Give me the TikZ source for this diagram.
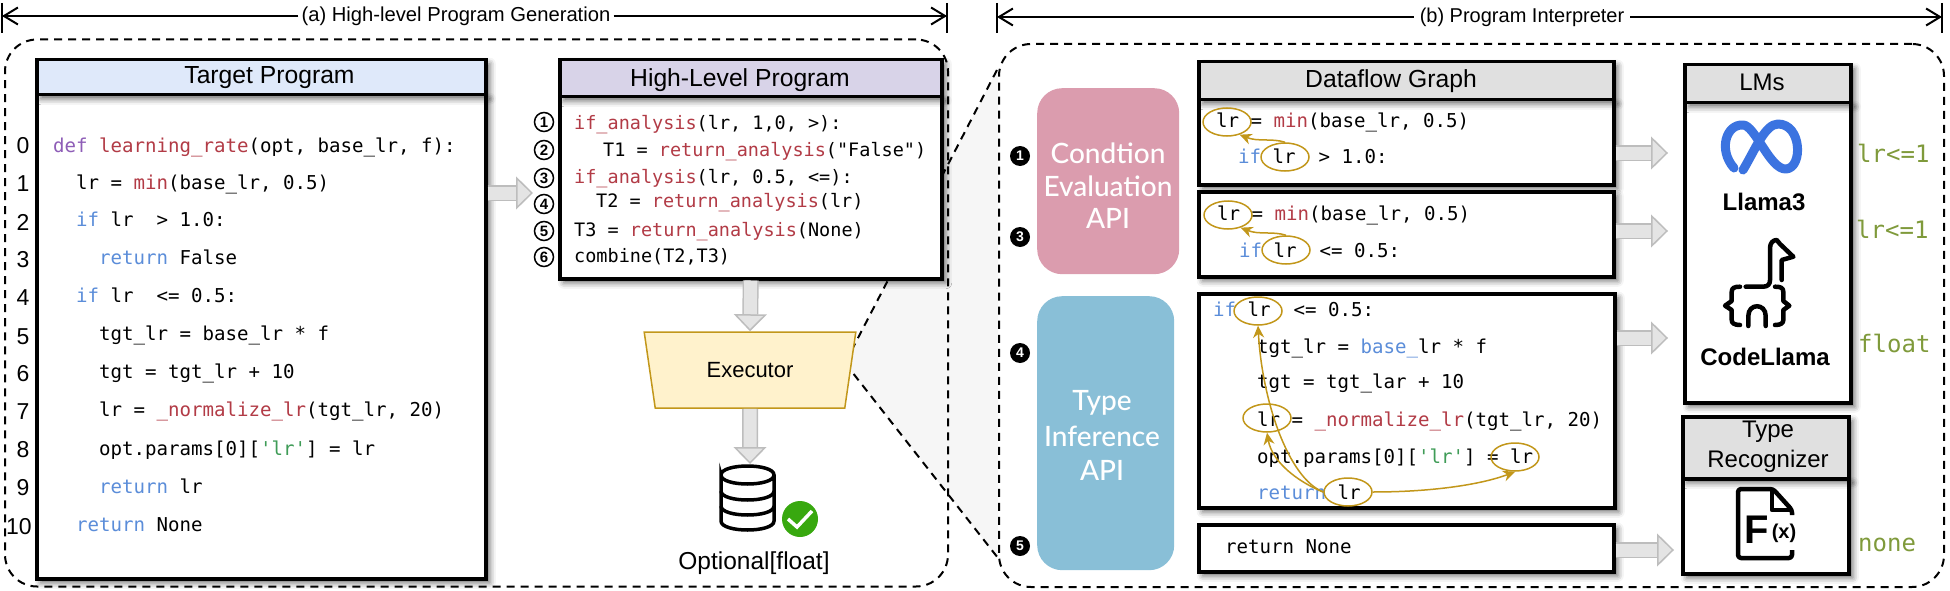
\documentclass[tikz,border=0pt]{standalone}
\usepackage{fontspec}
\setmainfont{Liberation Sans}
\setmonofont{DejaVu Sans Mono}
\newfontfamily\apifont{Lato Medium}
\usetikzlibrary{arrows.meta, shapes.geometric, shadows.blur}

\definecolor{headblue}{HTML}{DFE9FA}
\definecolor{headpurple}{HTML}{D8D3E8}
\definecolor{headgray}{HTML}{E0E0E0}
\definecolor{fangray}{HTML}{F6F6F6}
\definecolor{arrowfill}{HTML}{E4E4E4}
\definecolor{arrowedge}{HTML}{BDBDBD}
\definecolor{execfill}{HTML}{FFF2CC}
\definecolor{execedge}{HTML}{C2971A}
\definecolor{apipink}{HTML}{DB9CAE}
\definecolor{apiblue}{HTML}{89BFD7}
\definecolor{kwblue}{HTML}{5B8DD9}
\definecolor{fnred}{HTML}{B23B46}
\definecolor{defpurple}{HTML}{8E5DB7}
\definecolor{strgreen}{HTML}{3F9C57}
\definecolor{resgreen}{HTML}{7F9A3B}
\definecolor{metablue}{HTML}{3B73E0}
\definecolor{okgreen}{HTML}{38A80F}

\newcommand{\kw}[1]{\textcolor{kwblue}{#1}}
\newcommand{\fn}[1]{\textcolor{fnred}{#1}}
\newcommand{\strlit}[1]{\textcolor{strgreen}{#1}}
\newcommand{\sansat}[1]{\fontsize{#1}{#1}\selectfont}

\tikzset{
	panel/.style={draw, dashed, dash pattern=on 8pt off 6pt, line width=2pt, rounded corners=32pt, anchor=north west, inner sep=0},
	dimline/.style={line width=2pt, -{Straight Barb[length=14pt,width=17pt,line width=2pt]}},
	softshadow/.style={blur shadow={shadow xshift=4pt, shadow yshift=-4pt, shadow blur radius=6pt, shadow opacity=60}},
	headbox/.style={draw, line width=3.5pt, softshadow, anchor=north west, inner sep=0},
	bodybox/.style={draw, fill=white, line width=3.5pt, softshadow, anchor=north west, inner sep=0},
	headtext/.style={anchor=base, inner sep=0, align=center, font=\sansat{24.7}},
	codeline/.style={anchor=base west, inner sep=0, font=\ttfamily\sansat{19.1}},
	hlline/.style={anchor=base west, inner sep=0, font=\ttfamily\sansat{18.5}},
	lineno/.style={inner sep=0, font=\sansat{23}},
	circnum/.style={circle, draw, line width=1.5pt, minimum size=19pt, inner sep=0, font=\bfseries\sansat{15}},
	dotnum/.style={circle, fill=black, text=white, minimum size=20pt, inner sep=0, font=\bfseries\sansat{14}},
	apibox/.style={rounded corners=25pt, anchor=north west, inner sep=0},
	apitext/.style={text=white, inner sep=0, align=center, font=\apifont\sansat{28}},
	mark ell/.style={ellipse, draw=execedge, line width=1.5pt, minimum width=48pt, minimum height=28pt, inner sep=0},
	flowarrow/.style={draw=execedge, line width=1.5pt, -{Stealth[length=12pt,width=11pt]}},
	blockarrow/.style={draw=arrowedge, line width=1.5pt, double=arrowfill, double distance=13pt, -{Triangle[length=17pt,width=33pt,fill=arrowfill,line width=1.5pt]}},
	restext/.style={anchor=base west, inner sep=0, text=resgreen, font=\ttfamily\sansat{24}},
	logotext/.style={inner sep=0, font=\bfseries\sansat{24}}
}

\begin{document}
\begin{tikzpicture}[x=1pt, y=-1pt]
	\useasboundingbox (0,0) rectangle (1950,591);

	\coordinate (fanapex) at (845,363);
	\coordinate (fantop) at (998,68);
	\coordinate (fanbot) at (998,558);
	\fill[fangray] (fanapex) -- (fantop) -- (fanbot) -- cycle;

	\node[panel, minimum width=943pt, minimum height=547pt] (panela) at (4,38.5) {};
	\node[panel, minimum width=945pt, minimum height=543pt] (panelb) at (998,43) {};
	\draw[dashed, dash pattern=on 8pt off 6pt, line width=2pt] (fanapex) -- (fantop);
	\draw[dashed, dash pattern=on 8pt off 6pt, line width=2pt] (fanapex) -- (fanbot);

	\node[inner sep=3pt, font=\sansat{20.2}] (labela) at (456,16) {(a) High-level Program Generation};
	\coordinate (atopl) at (2,3);
	\coordinate (abotl) at (2,33);
	\coordinate (atopr) at (947,3);
	\coordinate (abotr) at (947,33);
	\draw[line width=1.5pt] (atopl) -- (abotl);
	\draw[line width=1.5pt] (atopr) -- (abotr);
	\draw[dimline] (labela.west) -- (labela.west -| atopl);
	\draw[dimline] (labela.east) -- (labela.east -| atopr);

	\node[inner sep=6pt, font=\sansat{20}] (labelb) at (1522,17) {(b) Program Interpreter};
	\coordinate (btopl) at (997,3);
	\coordinate (bbotl) at (997,33);
	\coordinate (btopr) at (1942,3);
	\coordinate (bbotr) at (1942,33);
	\draw[line width=1.5pt] (btopl) -- (bbotl);
	\draw[line width=1.5pt] (btopr) -- (bbotr);
	\draw[dimline] (labelb.west) -- (labelb.west -| btopl);
	\draw[dimline] (labelb.east) -- (labelb.east -| btopr);

	\node[bodybox, minimum width=449pt, minimum height=484pt] (targetbody) at (35,93) {};
	\node[headbox, fill=headblue, minimum width=449pt, minimum height=35pt] (targethead) at (35,58) {};
	\node[headtext] (targettext) at (269.5,84) {Target Program};

	\node[lineno] (no0) at (23,146) {0};
	\node[lineno] (no1) at (23,184) {1};
	\node[lineno] (no2) at (23,222) {2};
	\node[lineno] (no3) at (23,260) {3};
	\node[lineno] (no4) at (23,298) {4};
	\node[lineno] (no5) at (23,337) {5};
	\node[lineno] (no6) at (23,374) {6};
	\node[lineno] (no7) at (23,412) {7};
	\node[lineno] (no8) at (23,450) {8};
	\node[lineno] (no9) at (23,488) {9};
	\node[lineno] (no10) at (19,527) {10};

	\node[codeline] (tp0) at (53,153) {\textcolor{defpurple}{def} \fn{learning\_rate}(opt, base\_lr, f):};
	\node[codeline] (tp1) at (76,189) {lr = \fn{min}(base\_lr, 0.5)};
	\node[codeline] (tp2) at (76,226) {\kw{if} lr~~> 1.0:};
	\node[codeline] (tp3) at (99,264) {\kw{return} False};
	\node[codeline] (tp4) at (76,302) {\kw{if} lr~~<= 0.5:};
	\node[codeline] (tp5) at (99,340) {tgt\_lr = base\_lr * f};
	\node[codeline] (tp6) at (99,378) {tgt = tgt\_lr + 10};
	\node[codeline] (tp7) at (99,416) {lr = \fn{\_normalize\_lr}(tgt\_lr, 20)};
	\node[codeline] (tp8) at (99,455) {opt.params[0][\strlit{'lr'}] = lr};
	\node[codeline] (tp9) at (99,493) {\kw{return} lr};
	\node[codeline] (tp10) at (76,531) {\kw{return} None};

	\node[bodybox, minimum width=382pt, minimum height=182pt] (highbody) at (558,95) {};
	\node[headbox, fill=headpurple, minimum width=382pt, minimum height=37pt] (highhead) at (558,58) {};
	\node[headtext] (hightext) at (740,87) {High-Level Program};

	\node[circnum] (step1) at (544,122) {1};
	\node[circnum] (step2) at (544,150) {2};
	\node[circnum] (step3) at (544,178) {3};
	\node[circnum] (step4) at (544,204) {4};
	\node[circnum] (step5) at (544,231) {5};
	\node[circnum] (step6) at (544,257) {6};

	\node[hlline] (hl1) at (574,129) {\fn{if\_analysis}(lr, 1,0, >):};
	\node[hlline] (hl2) at (603,157) {T1 = \fn{return\_analysis}("False")};
	\node[hlline] (hl3) at (574,183) {\fn{if\_analysis}(lr, 0.5, <=):};
	\node[hlline] (hl4) at (596,207) {T2 = \fn{return\_analysis}(lr)};
	\node[hlline] (hl5) at (574,236) {T3 = \fn{return\_analysis}(None)};
	\node[hlline] (hl6) at (574,262) {combine(T2,T3)};

	\node[trapezium, shape border rotate=180, trapezium stretches=true, trapezium angle=71.8, draw=execedge, fill=execfill, line width=1.5pt, minimum width=212pt, minimum height=76pt, inner sep=0, font=\sansat{22}] (executor) at (750,370) {Executor};

	\coordinate (arrowtohigh) at (533,193);
	\coordinate (arrowtodb) at (750,464);
	\draw[blockarrow] (targetbody.east |- arrowtohigh) -- (arrowtohigh);
	\draw[blockarrow] (highbody.south) -- (executor.north);
	\draw[blockarrow] (executor.south) -- (arrowtodb);

	\draw[line width=3.5pt] (721,475) .. controls (721,463) and (774,463) .. (774,475) .. controls (774,487) and (721,487) .. (721,475) -- (721,521) .. controls (721,533) and (774,533) .. (774,521) -- (774,475);
	\draw[line width=3.5pt] (721,491) .. controls (721,503) and (774,503) .. (774,491);
	\draw[line width=3.5pt] (721,506) .. controls (721,518) and (774,518) .. (774,506);
	\fill[okgreen] (800,519) circle (18);
	\draw[white, line width=3.5pt] (788,519) -- (797,527) -- (812,511);
	\node[inner sep=0, font=\sansat{24.5}] (result) at (754,563) {Optional[float]};

	\node[apibox, fill=apipink, minimum width=142pt, minimum height=186pt] (condapi) at (1037,88) {};
	\node[apitext] (condtext1) at (1108,153) {Condtion};
	\node[apitext] (condtext2) at (1108,186) {Evaluation};
	\node[apitext] (condtext3) at (1108,218) {API};
	\node[apibox, fill=apiblue, minimum width=137pt, minimum height=274pt] (typeapi) at (1037,296) {};
	\node[apitext] (typetext1) at (1102,403) {Type};
	\node[apitext] (typetext2) at (1102,436) {Inference};
	\node[apitext] (typetext3) at (1102,470) {API};

	\node[dotnum] (dot1) at (1020,156) {1};
	\node[dotnum] (dot3) at (1020,237) {3};
	\node[dotnum] (dot4) at (1020,353) {4};
	\node[dotnum] (dot5) at (1020,546) {5};

	\node[bodybox, minimum width=415pt, minimum height=85pt] (flowa) at (1197,98) {};
	\node[headbox, fill=headgray, minimum width=415pt, minimum height=38pt] (flowhead) at (1197,60) {};
	\node[headtext] (flowtext) at (1391,88) {Dataflow Graph};
	\node[bodybox, minimum width=415pt, minimum height=85pt] (flowb) at (1197,190) {};
	\node[bodybox, minimum width=416pt, minimum height=214pt] (flowc) at (1197,292) {};
	\node[bodybox, minimum width=415pt, minimum height=47pt] (flowd) at (1197,523) {};

	\node[codeline] (fa1) at (1216,128) {lr = \fn{min}(base\_lr, 0.5)};
	\node[codeline] (fa2) at (1238,163) {\kw{if} lr~~> 1.0:};
	\node[codeline] (fb1) at (1217,220) {lr = \fn{min}(base\_lr, 0.5)};
	\node[codeline] (fb2) at (1239,257) {\kw{if} lr~~<= 0.5:};
	\node[codeline] (fc1) at (1213,316) {\kw{if} lr~~<= 0.5:};
	\node[codeline] (fc2) at (1257,353) {tgt\_lr = \kw{base\_}lr * f};
	\node[codeline] (fc3) at (1257,388) {tgt = tgt\_lar + 10};
	\node[codeline] (fc4) at (1257,426) {lr = \fn{\_normalize\_lr}(tgt\_lr, 20)};
	\node[codeline] (fc5) at (1257,463) {opt.params[0][\strlit{'lr'}] = lr};
	\node[codeline] (fc6) at (1257,499) {\kw{return} lr};
	\node[codeline] (fd1) at (1225,553) {return None};

	\node[mark ell] (lrmina) at (1227,122) {};
	\node[mark ell] (lrconda) at (1285,157) {};
	\node[mark ell] (lrminb) at (1228,215) {};
	\node[mark ell] (lrcondb) at (1286,250) {};
	\node[mark ell] (lrif) at (1258,311) {};
	\node[mark ell] (lrnorm) at (1267,418) {};
	\node[mark ell] (lrret) at (1348,492) {};
	\node[mark ell] (lrparam) at (1515,457) {};

	\draw[flowarrow] (lrconda.north) .. controls (1272,138) and (1258,142) .. (lrmina.-45);
	\draw[flowarrow] (lrcondb.north) .. controls (1273,231) and (1259,235) .. (lrminb.-45);
	\draw[flowarrow] (lrret.west) .. controls (1288,478) and (1262,400) .. (lrif.south);
	\draw[flowarrow] (lrret.west) .. controls (1298,482) and (1272,462) .. (lrnorm.south);
	\draw[flowarrow] (lrret.east) .. controls (1430,492) and (1480,485) .. (lrparam.south);

	\node[bodybox, minimum width=166pt, minimum height=300pt] (lmbody) at (1683,101) {};
	\node[headbox, fill=headgray, minimum width=166pt, minimum height=38pt] (lmhead) at (1683,63) {};
	\node[headtext, font=\sansat{24}] (lmtext) at (1762,91) {LMs};

	\draw[metablue, line width=9pt, line cap=round, line join=round] (1734,168) .. controls (1718,150) and (1726,124) .. (1743,125) .. controls (1755,125) and (1770,170) .. (1786,169) .. controls (1803,168) and (1802,124) .. (1778,124) .. controls (1765,124) and (1755,150) .. (1743,170);
	\node[logotext] (llamatext) at (1764,202) {Llama3};

	\draw[line width=4.5pt, line cap=round, line join=round] (1745.7,286.7) -- (1763,286.7) .. controls (1768,286.7) and (1770,284) .. (1770,280) -- (1770,248) .. controls (1770,243) and (1773,240) .. (1776.7,240) -- (1780,244) -- (1793.3,256.7) -- (1781.7,260) -- (1781.7,280);
	\draw[line width=4.5pt, line cap=round, line join=round] (1740,286.7) .. controls (1734,286.7) and (1731.7,288) .. (1731.7,292) -- (1731.7,301) -- (1725,305.7) -- (1731.7,310) -- (1731.7,320) .. controls (1731.7,323) and (1734,325) .. (1740,325);
	\draw[line width=4.5pt, line cap=round, line join=round] (1775,286.7) .. controls (1781,286.7) and (1783.3,288) .. (1783.3,292) -- (1783.3,301) -- (1789.3,305.7) -- (1783.3,310) -- (1783.3,320) .. controls (1783.3,323) and (1781,325) .. (1775,325);
	\draw[line width=4.5pt, line cap=round] (1748.3,326) -- (1748.3,316) .. controls (1748.3,303) and (1765.7,303) .. (1765.7,316) -- (1765.7,326);
	\node[logotext] (codellamatext) at (1765,357) {CodeLlama};

	\node[bodybox, minimum width=166pt, minimum height=95pt] (recbody) at (1681,477) {};
	\node[headbox, fill=headgray, minimum width=166pt, minimum height=62pt] (rechead) at (1681,415) {};
	\node[headtext, font=\sansat{24}] (rectext1) at (1768,437) {Type};
	\node[headtext, font=\sansat{24}] (rectext2) at (1768,467) {Recognizer};

	\draw[line width=4.5pt, line join=round, rounded corners=3pt] (1792,550) -- (1792,558) -- (1738,558) -- (1738,489) -- (1773,489) -- (1792,510) -- (1792,515);
	\draw[line width=4.5pt, line join=round] (1772,489) -- (1772,510) -- (1792,510);
	\node[inner sep=0, font=\bfseries\sansat{40}] (fxf) at (1757,530) {F};
	\node[inner sep=0, font=\bfseries\sansat{20}] (fxx) at (1784,533) {(x)};

	\coordinate (arrowlma) at (1668,153);
	\coordinate (arrowlmb) at (1668,231);
	\coordinate (arrowlmc) at (1668,338);
	\coordinate (arrowrec) at (1674,550);
	\draw[blockarrow] (flowa.east |- arrowlma) -- (arrowlma);
	\draw[blockarrow] (flowb.east |- arrowlmb) -- (arrowlmb);
	\draw[blockarrow] (flowc.east |- arrowlmc) -- (arrowlmc);
	\draw[blockarrow] (flowd.east |- arrowrec) -- (arrowrec);

	\node[restext] (resa) at (1857,162) {lr<=1};
	\node[restext] (resb) at (1856,238) {lr<=1};
	\node[restext] (resc) at (1858,352) {float};
	\node[restext] (resd) at (1858,551) {none};
\end{tikzpicture}
\end{document}
